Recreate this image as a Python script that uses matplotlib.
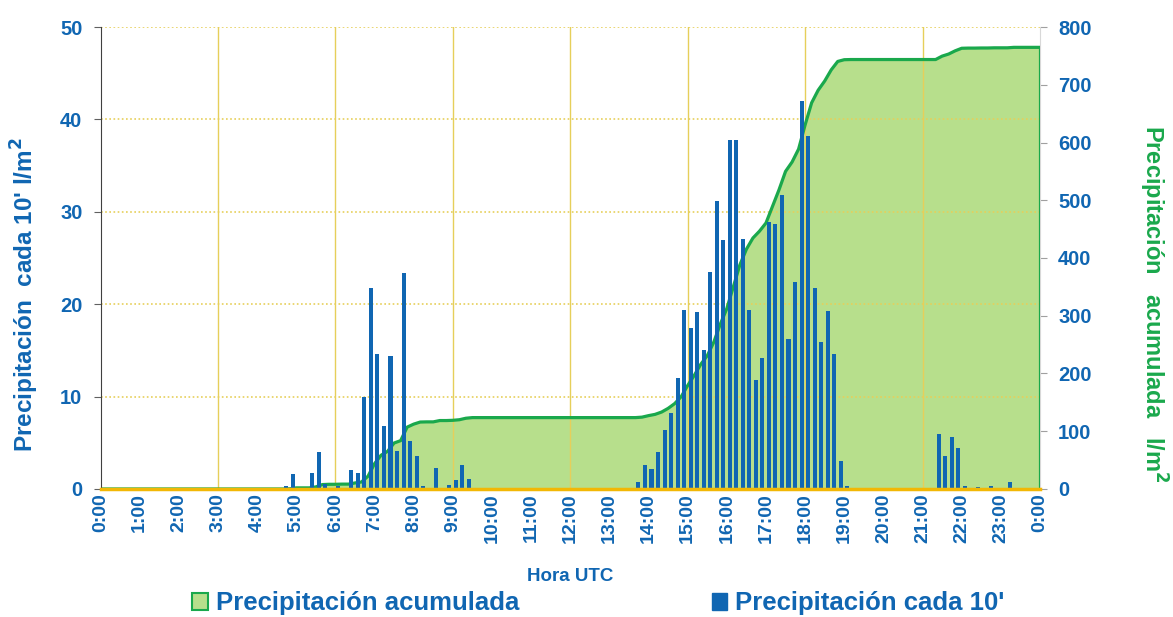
import numpy as np
import matplotlib.pyplot as plt
from matplotlib.patches import Patch

plt.rcParams['font.family'] = ['Liberation Sans', 'DejaVu Sans']
plt.rcParams['font.weight'] = 'bold'

# precipitation every 10 minutes (l/m2), one row per hour UTC
rain_10min = [
    [0, 0, 0, 0, 0, 0],              # 0h
    [0, 0, 0, 0, 0, 0],              # 1h
    [0, 0, 0, 0, 0, 0],              # 2h
    [0, 0, 0, 0, 0, 0],              # 3h
    [0, 0, 0, 0, 0.3, 1.6],          # 4h
    [0, 0, 1.7, 4.0, 0.5, 0],        # 5h
    [0.3, 0, 2.0, 1.7, 10.0, 21.7],  # 6h
    [14.6, 6.8, 14.4, 4.1, 23.4, 5.2],   # 7h
    [3.6, 0.3, 0, 2.3, 0, 0.4],      # 8h
    [1.0, 2.6, 1.1, 0, 0, 0],        # 9h
    [0, 0, 0, 0, 0, 0],              # 10h
    [0, 0, 0, 0, 0, 0],              # 11h
    [0, 0, 0, 0, 0, 0],              # 12h
    [0, 0, 0, 0, 0.8, 2.6],          # 13h
    [2.2, 4.0, 6.4, 8.2, 12.0, 19.4],    # 14h
    [17.4, 19.2, 15.0, 23.5, 31.2, 27.0],  # 15h
    [37.8, 37.8, 27.1, 19.4, 11.8, 14.2],  # 16h
    [28.9, 28.7, 31.8, 16.2, 22.4, 42.0],  # 17h
    [38.2, 21.8, 15.9, 19.3, 14.6, 3.0],   # 18h
    [0.3, 0, 0, 0, 0, 0],            # 19h
    [0, 0, 0, 0, 0, 0],              # 20h
    [0, 0, 5.9, 3.6, 5.6, 4.4],      # 21h
    [0.3, 0, 0.2, 0, 0.3, 0],        # 22h
    [0, 0.8, 0, 0, 0, 0],            # 23h
]
hour_labels = ['%d:00' % h for h in range(24)] + ['0:00']

blue = '#1066b2'
green = '#1aa84c'
fill_green = '#b7df8c'
grid_yellow = '#e6cf5a'

rain = np.array(rain_10min).ravel()
n = len(rain)
t_bar = (np.arange(n) + 0.45) / 6.0
t_acc = np.arange(n + 1) / 6.0
acc = np.concatenate([[0], np.cumsum(rain)])

fig = plt.figure(figsize=(11.73, 6.17), dpi=100)
ax = fig.add_axes([0.0857, 0.2075, 0.8009, 0.7487])
ax2 = ax.twinx()

# accumulated area on the right axis, bars on the left axis in front
ax.set_zorder(ax2.get_zorder() + 1)
ax.patch.set_visible(False)

ax2.fill_between(t_acc, acc, color=fill_green, lw=0, zorder=1)
ax2.plot(t_acc, acc, color=green, lw=2.3, zorder=3)
ax2.vlines(t_acc[-1], 0, acc[-1], color=green, lw=2.3, zorder=3)
ax2.set_ylim(0, 800)
ax2.set_yticks(np.arange(0, 801, 100))

ax.bar(t_bar, rain, width=0.62 / 6, color=blue, zorder=3)
ax.set_xlim(0, 24)
ax.set_ylim(0, 50)
ax.set_yticks(np.arange(0, 51, 10))
ax.set_xticks(np.arange(25))
ax.set_xticklabels(hour_labels, rotation=90)

# grid
for y in range(10, 51, 10):
    ax2.axhline(y * 16, color=grid_yellow, lw=1.2, ls=(0, (1, 1.5)), zorder=2)
for h in range(3, 24, 3):
    ax2.axvline(h, color=grid_yellow, lw=1.0, zorder=2)

for a in (ax, ax2):
    a.spines['top'].set_visible(False)
ax.spines['left'].set_color('#404040')
ax.spines['bottom'].set_color('#f2b705')
ax.spines['bottom'].set_linewidth(2.5)
ax.spines['bottom'].set_zorder(5)
ax2.spines['bottom'].set_visible(False)
ax2.spines['left'].set_visible(False)
ax2.spines['right'].set_color('#d8d8d8')
ax.spines['right'].set_visible(False)

ax.tick_params(axis='x', length=0, pad=3, labelsize=14, labelcolor=blue)
ax.tick_params(axis='y', length=5, color='#606060', labelsize=14.5,
               labelcolor=blue, pad=8)
ax2.tick_params(axis='y', length=5, color='#a0a0a0', labelsize=14.5,
                labelcolor=blue, pad=8)
for lab in ax.get_xticklabels() + ax.get_yticklabels() + ax2.get_yticklabels():
    lab.set_fontweight('bold')

ax.set_ylabel("Precipitación  cada 10' l/m$^2$", color=blue, fontsize=17.5,
              fontweight='bold', va='center')
ax.yaxis.set_label_coords(-0.080, 0.42)
ax2.set_ylabel('Precipitación   acumulada   l/m$^2$', color=green,
               fontsize=17, fontweight='bold', rotation=270, va='center')
ax2.yaxis.set_label_coords(1.12, 0.40)
ax.set_xlabel('Hora UTC', color=blue, fontsize=13.5, fontweight='bold',
              labelpad=18)

handles = [Patch(facecolor=fill_green, edgecolor=green, lw=1.5),
           Patch(facecolor=blue, edgecolor=blue)]
labels = ['Precipitación acumulada', "Precipitación cada 10'"]
leg = fig.legend(handles, labels, loc='center', bbox_to_anchor=(0.51, 0.022),
                 ncol=2, frameon=False, fontsize=18.5, labelcolor=blue,
                 handlelength=0.6, handleheight=0.6, handletextpad=0.3,
                 columnspacing=7.5)
for txt in leg.get_texts():
    txt.set_fontweight('bold')

fig.savefig('out.png', dpi=100)
